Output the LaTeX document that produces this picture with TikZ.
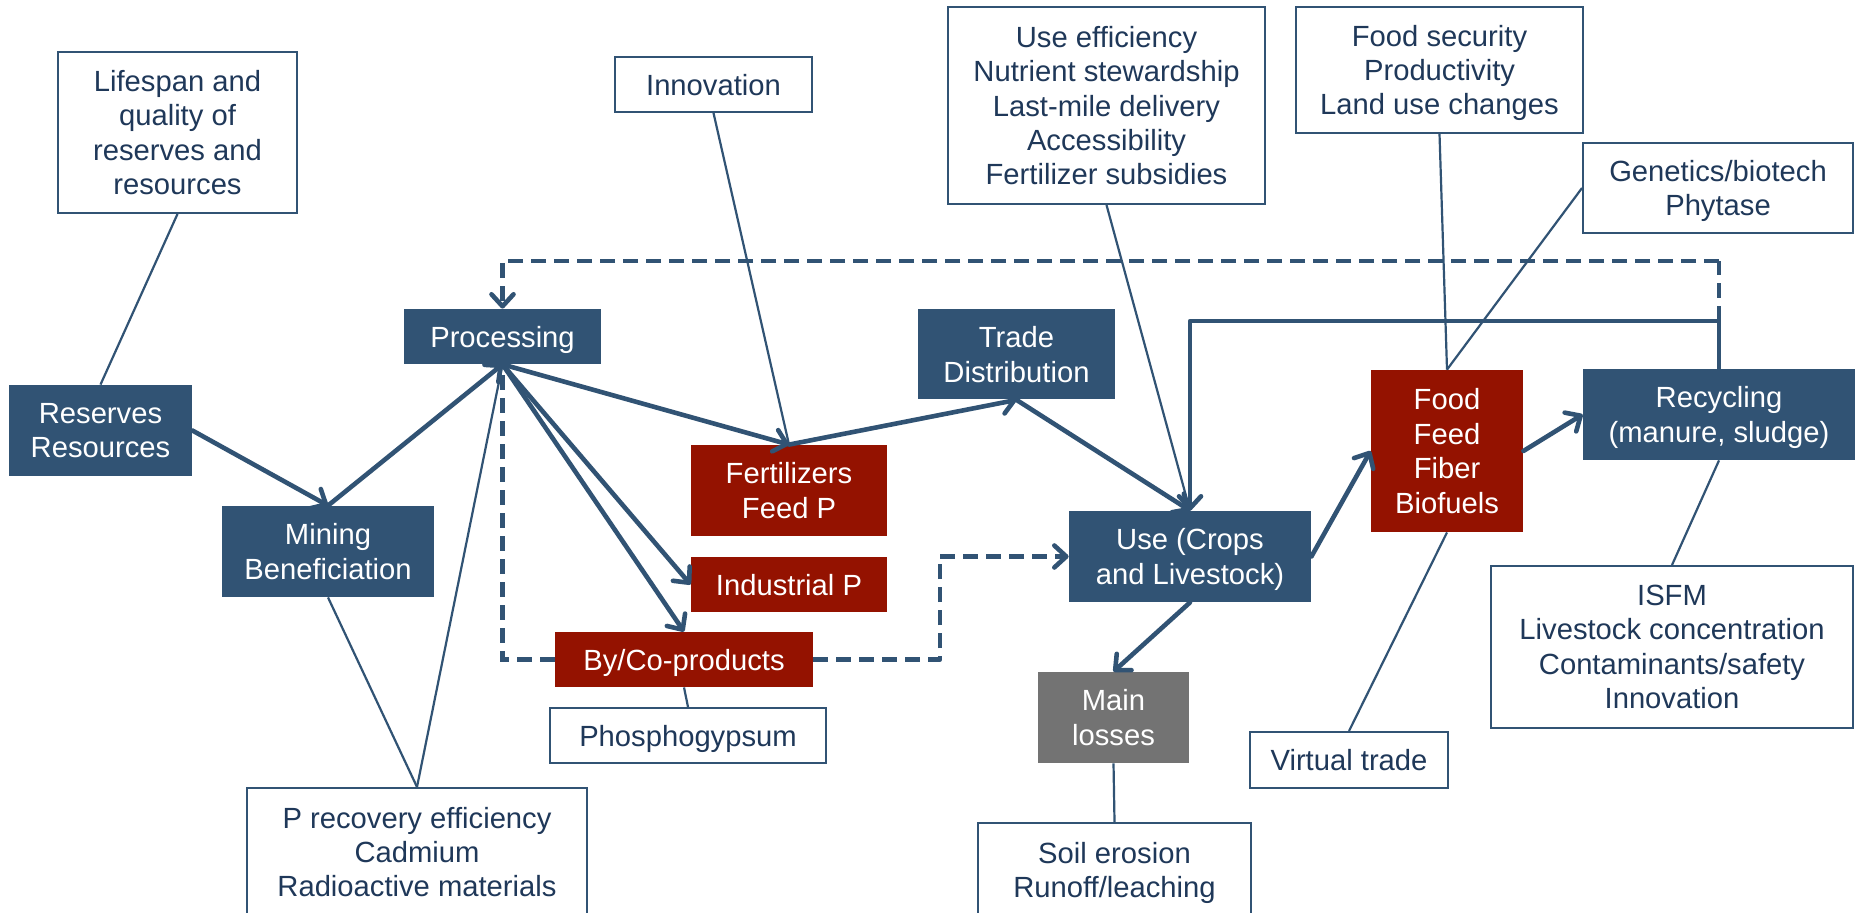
\documentclass[tikz,border=0pt]{standalone}
\usepackage{fontspec}
\setmainfont{Liberation Sans}
\usetikzlibrary{arrows.meta}
\definecolor{blueF}{RGB}{49,83,116}
\definecolor{redF}{RGB}{148,18,0}
\definecolor{grayF}{RGB}{115,115,115}
\definecolor{txtC}{RGB}{31,56,89}
\newcommand{\fs}{\fontsize{14.6pt}{17.2pt}\selectfont}
\tikzset{
  sz/.style 2 args={minimum width=#1*0.5pt, minimum height=#2*0.5pt},
  basebox/.style={rectangle, align=center, inner sep=0pt, font=\fs, text depth=0pt},
  wbox/.style={basebox, draw=blueF, line width=1pt, fill=white, text=txtC},
  bbox/.style={basebox, fill=blueF, text=white},
  rbox/.style={basebox, fill=redF, text=white},
  gbox/.style={basebox, fill=grayF, text=white},
  flow/.style={draw=blueF, line width=2.3pt, line cap=round, line join=round,
    -{Straight Barb[length=6pt,width=11pt,line cap=round,line join=round]}},
  dflow/.style={flow, dash pattern=on 7.5pt off 4pt, line cap=butt},
  dline/.style={draw=blueF, line width=2.3pt, dash pattern=on 7.5pt off 4pt},
  link/.style={draw=blueF, line width=1.1pt},
}
\begin{document}
\begin{tikzpicture}[x=0.5pt,y=-0.5pt]
\useasboundingbox (0,0) rectangle (1855,913);
\clip (0,0) rectangle (1855,913);
\fill[white] (0,0) rectangle (1855,913);

% white annotation boxes
\node[wbox, sz={239}{161}] (lifespan) at (177.5,132.5) {Lifespan and\\quality of\\reserves and\\resources};
\node[wbox, sz={197}{55}] (innov) at (713.5,84.5) {Innovation};
\node[wbox, sz={317}{197}] (useeff) at (1106.5,105.5) {Use efficiency\\Nutrient stewardship\\Last-mile delivery\\Accessibility\\Fertilizer subsidies};
\node[wbox, sz={287}{126}] (foodsec) at (1439.5,70) {Food security\\Productivity\\Land use changes};
\node[wbox, sz={270}{90}] (genet) at (1718,188) {Genetics/biotech\\Phytase};
\node[wbox, sz={276}{55}] (phospho) at (688,735.5) {Phosphogypsum};
\node[wbox, sz={340}{128}] (precov) at (417,852) {P recovery efficiency\\Cadmium\\Radioactive materials};
\node[wbox, sz={273}{94}] (soil) at (1114.5,870) {Soil erosion\\Runoff/leaching};
\node[wbox, sz={198}{56}] (virtual) at (1349,760) {Virtual trade};
\node[wbox, sz={362}{162}] (isfm) at (1672,647) {ISFM\\Livestock concentration\\Contaminants/safety\\Innovation};

% main flow boxes
\node[bbox, sz={183}{91}] (reserves) at (100.5,430.5) {Reserves\\Resources};
\node[bbox, sz={197}{55}] (proc) at (502.5,336.5) {Processing};
\node[bbox, sz={212}{91}] (mining) at (328,551.5) {Mining\\Beneficiation};
\node[rbox, sz={196}{91}] (fert) at (789,490.5) {Fertilizers\\Feed P};
\node[rbox, sz={196}{55}] (indp) at (789,584.5) {Industrial P};
\node[rbox, sz={258}{55}] (byco) at (684,659.5) {By/Co-products};
\node[bbox, sz={197}{90}] (trade) at (1016.5,354.5) {Trade\\Distribution};
\node[bbox, sz={242}{91}] (use) at (1190,556.5) {Use (Crops\\and Livestock)};
\node[gbox, sz={151}{91}] (losses) at (1113.5,717.5) {Main\\losses};
\node[rbox, sz={152}{162}] (food) at (1447,451) {Food\\Feed\\Fiber\\Biofuels};
\node[bbox, sz={272}{91}] (recyc) at (1719,414.5) {Recycling\\(manure, sludge)};

% junction coordinates
\coordinate (j1) at (1719,321);
\coordinate (d1) at (1719,261);
\coordinate (c2) at (940,659.5);

% thin links
\draw[link] (lifespan.south) -- (reserves.north);
\draw[link] (innov.south) -- (fert.north);
\draw[link] (useeff.south) -- (use.north);
\draw[link] (foodsec.south) -- (food.north);
\draw[link] (genet.west) -- (food.north);
\draw[link] (mining.south) -- (precov.north);
\draw[link] (precov.north) -- (proc.south);
\draw[link] (byco.south) -- (phospho.north);
\draw[link] (losses.south) -- (soil.north);
\draw[link] (food.south) -- (virtual.north);
\draw[link] (recyc.south) -- (isfm.north);

% dashed loops
\draw[dline] (j1) -- (d1);
\draw[dflow] (d1) -| (proc.north);
\draw[dline] (byco.west) -| (proc.south);
\draw[dflow] (byco.east) -- (c2) |- (use.west);

% flows
\draw[flow] (reserves.east) -- (mining.north);
\draw[flow] (mining.north) -- (proc.south);
\draw[flow] (proc.south) -- (fert.north);
\draw[flow] (fert.north) -- (trade.south);
\draw[flow] (proc.south) -- (indp.west);
\draw[flow] (proc.south) -- (byco.north);
\draw[flow] (trade.south) -- (use.north);
\draw[flow] (recyc.north) -- (j1) -| (use.north);
\draw[flow] (use.east) -- (food.west);
\draw[flow] (food.east) -- (recyc.west);
\draw[flow] (use.south) -- (losses.north);
\end{tikzpicture}
\end{document}
